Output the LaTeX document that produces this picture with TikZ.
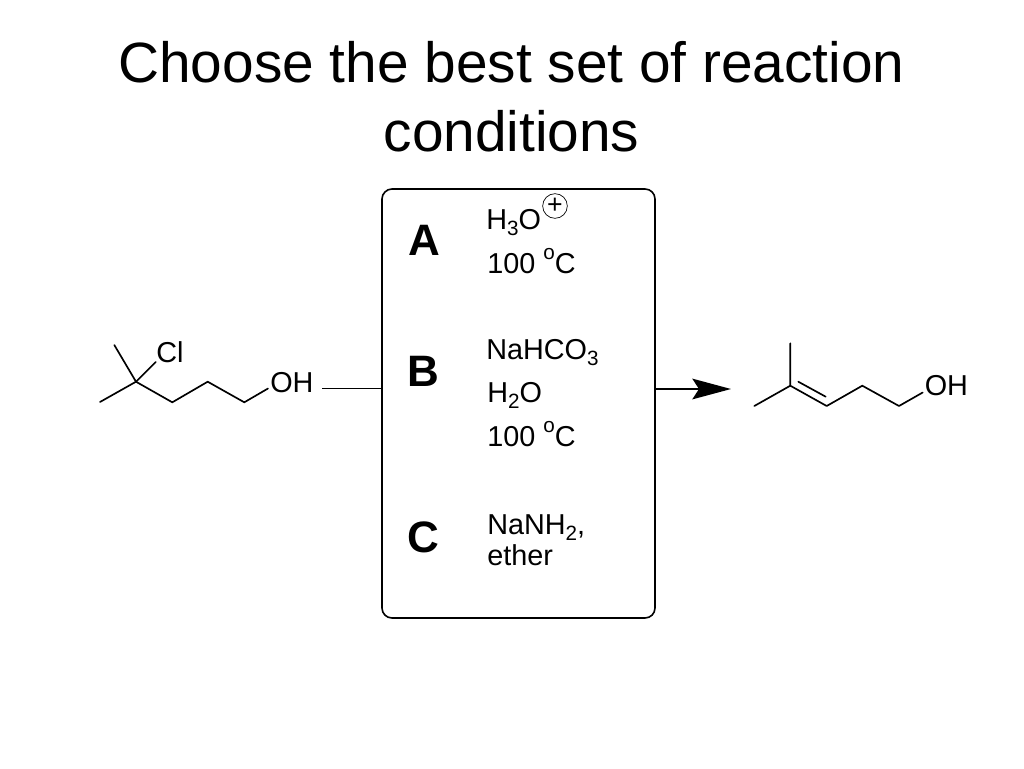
\documentclass[tikz,border=0pt]{standalone}
\usepackage{fontspec}
\setmainfont{Liberation Sans}
\usetikzlibrary{arrows.meta}
\newcommand{\subs}[1]{\raisebox{-0.22em}{\fontsize{15.5}{16}\selectfont #1}}
\newcommand{\sups}[1]{\raisebox{0.48em}{\fontsize{15.5}{16}\selectfont #1}}
\tikzset{
  titletext/.style={inner sep=0pt,anchor=base,font=\fontsize{42.6}{48}\selectfont},
  chem/.style={inner sep=0pt,anchor=base west,font=\fontsize{21.6}{24}\selectfont},
  optionletter/.style={inner sep=0pt,anchor=base,font=\fontsize{33}{38}\selectfont\bfseries},
  bond/.style={line width=1.25pt,line cap=round,line join=round,black},
  panel/.style={draw=black,line width=1.2pt,rounded corners=7.5pt,inner sep=0pt},
  charge/.style={circle,draw,line width=0.5pt,inner sep=0pt,minimum size=18.5pt,font=\fontsize{20}{20}\selectfont},
  feed/.style={line width=1.1pt,black},
  reactionarrow/.style={line width=1.3pt,black,-{Stealth[length=29pt,width=15.5pt,inset=5pt]}}
}
\begin{document}
\begin{tikzpicture}[x=0.75pt,y=-0.75pt]
\useasboundingbox[fill=white] (0,0) rectangle (1024,768);
% title
\node[titletext] (title1) at (511.5,82) {Choose the best set of reaction};
\node[titletext] (title2) at (511.5,151) {conditions};
% panel
\node[panel,minimum width=204.75pt,minimum height=321.75pt] (box) at (518.5,403.5) {};
\node[optionletter] (A) at (424,255) {A};
\node[optionletter] (B) at (423,386) {B};
\node[optionletter] (C) at (423,552) {C};
\node[chem] (a1) at (486,229) {H\subs{3}O};
\node[charge] (plus) at (555,206) {\raisebox{-0.8pt}{+}};
\node[chem] (a2) at (487,273) {100 \sups{o}C};
\node[chem] (b1) at (486,359) {NaHCO\subs{3}};
\node[chem] (b2) at (487,402) {H\subs{2}O};
\node[chem] (b3) at (487,446) {100 \sups{o}C};
\node[chem] (c1) at (487,534) {NaNH\subs{2},};
\node[chem] (c2) at (487,565) {ether};
% reactant
\coordinate (r1) at (114.3,345);
\coordinate (r2) at (100,402);
\coordinate (r3) at (136,381.7);
\coordinate (r4) at (172.3,402.3);
\coordinate (r5) at (207.7,381.7);
\coordinate (r6) at (244.3,402.3);
\coordinate (r7) at (268,388.5);
\coordinate (r8) at (155.7,362);
\node[chem] (cl) at (156,362.5) {Cl};
\node[chem] (oh1) at (270,392) {OH};
\draw[bond] (r1) -- (r3) -- (r4) -- (r5) -- (r6) -- (r7);
\draw[bond] (r2) -- (r3) -- (r8);
\coordinate (feedstart) at (322,388.7);
\draw[feed] (feedstart) -- (feedstart -| box.west);
% arrow
\coordinate (arrowtip) at (731,389);
\draw[reactionarrow] (arrowtip -| box.east) -- (arrowtip);
% product
\coordinate (p1) at (790.3,343.3);
\coordinate (p2) at (790.3,385.7);
\coordinate (p3) at (754.3,406);
\coordinate (p4) at (826.7,406);
\coordinate (p5) at (862.3,385.7);
\coordinate (p6) at (899,406);
\coordinate (p7) at (922.7,392.5);
\coordinate (d1) at (798.3,381.7);
\coordinate (d2) at (825.7,396.7);
\node[chem] (oh2) at (924.5,395) {OH};
\draw[bond] (p1) -- (p2) -- (p4) -- (p5) -- (p6) -- (p7);
\draw[bond] (p3) -- (p2);
\draw[bond] (d1) -- (d2);
\end{tikzpicture}
\end{document}
